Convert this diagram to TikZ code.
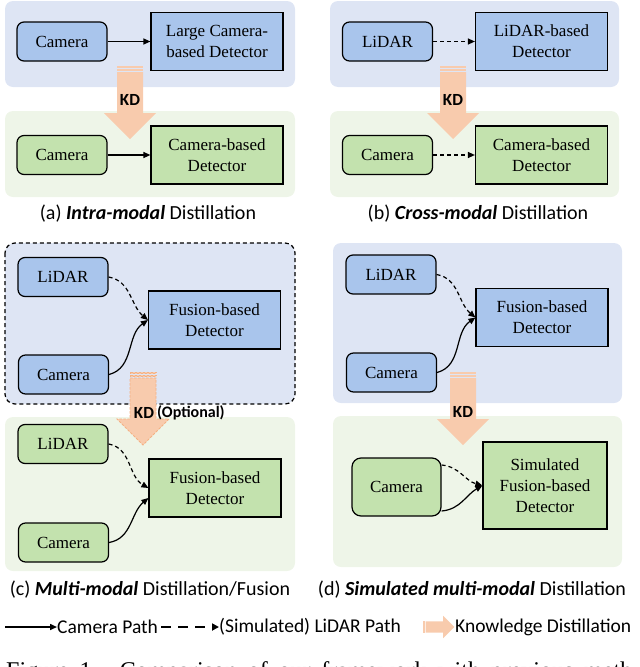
\documentclass[tikz,border=0pt]{standalone}
\usepackage{fontspec}
\setmainfont{Liberation Serif}
\newfontfamily\capfont{Carlito}
\usetikzlibrary{arrows.meta}
\definecolor{bgblue}{HTML}{DEE5F4}
\definecolor{bggreen}{HTML}{EEF5E8}
\definecolor{boxblue}{HTML}{A9C5EC}
\definecolor{boxgreen}{HTML}{C3E2AE}
\definecolor{kdorange}{HTML}{F8CBAD}
\definecolor{kdline}{HTML}{F4B183}
\tikzset{
  sensor/.style={draw, line width=1.2pt, rounded corners=7pt, minimum width=90pt,
    minimum height=39pt, inner sep=0pt, font=\fontsize{17}{21}\selectfont},
  detector/.style={draw, line width=1.2pt, minimum width=132pt, minimum height=58pt,
    inner sep=0pt, align=center, font=\fontsize{17}{21}\selectfont},
  campath/.style={line width=1.2pt, -{Triangle[length=7pt,width=6pt]}},
  lidpath/.style={campath, dash pattern=on 4pt off 3pt},
  panel/.style={rounded corners=8pt},
  kdtext/.style={font=\capfont\bfseries\fontsize{17}{20}\selectfont, inner sep=0pt},
  subcap/.style={font=\capfont\fontsize{20}{24}\selectfont, inner sep=0pt},
  legend/.style={subcap, font=\capfont\fontsize{19.5}{23}\selectfont, anchor=west},
  kdfull/.style={fill=kdorange},
  kddash/.style={fill=kdorange, draw=kdline, line width=0.8pt, dash pattern=on 2.5pt off 1.5pt},
  kd/.pic={
    \path[pic actions] (-13,0) rectangle (13,-1.5);
    \path[pic actions] (-13,-3) rectangle (13,-4.5);
    \path[pic actions] (-13,-6) -- (13,-6) -- (13,-47) -- (26,-47) -- (0,-73)
      -- (-26,-47) -- (-13,-47) -- cycle;
  }
}
\begin{document}
\begin{tikzpicture}[x=1pt,y=1pt]
\useasboundingbox (0,0) rectangle (640,-667);
% panel backgrounds
\fill[bgblue,panel] (5,-1) rectangle (295,-87);
\fill[bggreen,panel] (5,-111) rectangle (295,-197);
\fill[bgblue,panel] (330,-1) rectangle (619,-87);
\fill[bggreen,panel] (330,-111) rectangle (619,-197);
\filldraw[fill=bgblue,draw=black,line width=1.2pt,dash pattern=on 4pt off 3pt,rounded corners=10pt] (5,-243) rectangle (295,-404);
\fill[bggreen,panel] (5,-417) rectangle (295,-571);
\fill[bgblue,panel] (333,-243) rectangle (622,-403);
\fill[bggreen,panel] (333,-416) rectangle (622,-567);
% KD arrows
\pic[kdfull] at (130,-66) {kd};
\pic[kdfull] at (453,-66) {kd};
\pic[kddash] at (143,-372) {kd};
\pic[kdfull] at (463,-372) {kd};
\node[kdtext] (kdA) at (130,-100) {KD};
\node[kdtext] (kdB) at (453,-100) {KD};
\node[kdtext] (kdC) at (144,-413) {KD};
\node[kdtext, font=\capfont\bfseries\fontsize{16}{19}\selectfont, anchor=west] (optC) at (157,-413) {(Optional)};
\node[kdtext] (kdD) at (463,-412) {KD};
% (a) intra-modal
\node[sensor, fill=boxblue] (camA) at (62,-41.5) {Camera};
\node[detector, fill=boxblue] (detA) at (217,-41.5) {Large Camera-\\based Detector};
\node[sensor, fill=boxgreen] (camA2) at (62,-155) {Camera};
\node[detector, fill=boxgreen] (detA2) at (217,-155) {Camera-based\\Detector};
\draw[campath] (camA) -- (detA);
\draw[campath] (camA2) -- (detA2);
\node[subcap] (capA) at (148,-214) {(a) {\bfseries\itshape Intra-modal} Distillation};
% (b) cross-modal
\node[sensor, fill=boxblue] (lidB) at (387.5,-41.5) {LiDAR};
\node[detector, fill=boxblue] (detB) at (541.5,-41.5) {LiDAR-based\\Detector};
\node[sensor, fill=boxgreen] (camB) at (387.5,-155) {Camera};
\node[detector, fill=boxgreen] (detB2) at (541.5,-155) {Camera-based\\Detector};
\draw[lidpath] (lidB) -- (detB);
\draw[lidpath] (camB) -- (detB2);
\node[subcap] (capB) at (478,-214) {(b) {\bfseries\itshape Cross-modal} Distillation};
% (c) multi-modal
\node[sensor, fill=boxblue] (lidC) at (63,-277) {LiDAR};
\node[sensor, fill=boxblue] (camC) at (63.5,-374.5) {Camera};
\node[detector, fill=boxblue] (detC) at (214.5,-320) {Fusion-based\\Detector};
\draw[lidpath] (lidC.east) to[out=-10,in=140] (detC.west);
\draw[campath] (camC.east) to[out=15,in=215] (detC.west);
\node[sensor, fill=boxgreen] (lidC2) at (63,-444) {LiDAR};
\node[sensor, fill=boxgreen] (camC2) at (63.5,-542.5) {Camera};
\node[detector, fill=boxgreen] (detC2) at (215,-488) {Fusion-based\\Detector};
\draw[lidpath] (lidC2.east) to[out=-10,in=150] (detC2.west);
\draw[campath] (camC2.east) to[out=10,in=220] ([yshift=-10pt]detC2.west);
\node[subcap] (capC) at (150,-590) {(c) {\bfseries\itshape Multi-modal} Distillation/Fusion};
% (d) simulated multi-modal
\node[sensor, fill=boxblue] (lidD) at (391,-274.5) {LiDAR};
\node[sensor, fill=boxblue] (camD) at (391.5,-372.5) {Camera};
\node[detector, fill=boxblue] (detD) at (542,-317.5) {Fusion-based\\Detector};
\draw[lidpath] (lidD.east) to[out=-10,in=140] (detD.west);
\draw[campath] (camD.east) to[out=15,in=215] (detD.west);
\node[sensor, fill=boxgreen, minimum width=89pt, minimum height=58pt, rounded corners=9pt] (camD2) at (396.5,-487) {Camera};
\node[detector, fill=boxgreen, minimum width=124pt, minimum height=87pt] (detD2) at (545,-485.5) {Simulated\\Fusion-based\\Detector};
\draw[lidpath] ([yshift=22pt]camD2.east) to[out=-5,in=165] (detD2.west);
\draw[campath] ([yshift=-24pt]camD2.east) to[out=5,in=210] (detD2.west);
\node[subcap] (capD) at (472,-590) {(d) {\bfseries\itshape Simulated multi-modal} Distillation};
% legend
\coordinate (lgA) at (5,-627);
\node[legend] (lgCam) at (57,-627) {Camera Path};
\draw[line width=1.5pt, -{Triangle[length=7pt,width=6pt]}] (lgA) -- (lgCam.west);
\coordinate (lgB) at (161,-627);
\node[legend] (lgLid) at (219,-627) {(Simulated) LiDAR Path};
\draw[line width=2.4pt, dash pattern=on 10pt off 7pt, -{Triangle[length=7pt,width=7pt]}] (lgB) -- (lgLid.west);
\pic[kdfull, rotate=90, scale=0.43] at (423,-627) {kd};
\node[legend] (lgKD) at (455,-627) {Knowledge Distillation};
% figure caption, cut by the page edge
\node[anchor=north west, inner sep=0pt, font=\fontsize{24}{29}\selectfont] (figcap) at (6,-661)
  {\makebox[634pt][s]{Figure 1. Comparison of our framework with previous meth-}};
\end{tikzpicture}
\end{document}
